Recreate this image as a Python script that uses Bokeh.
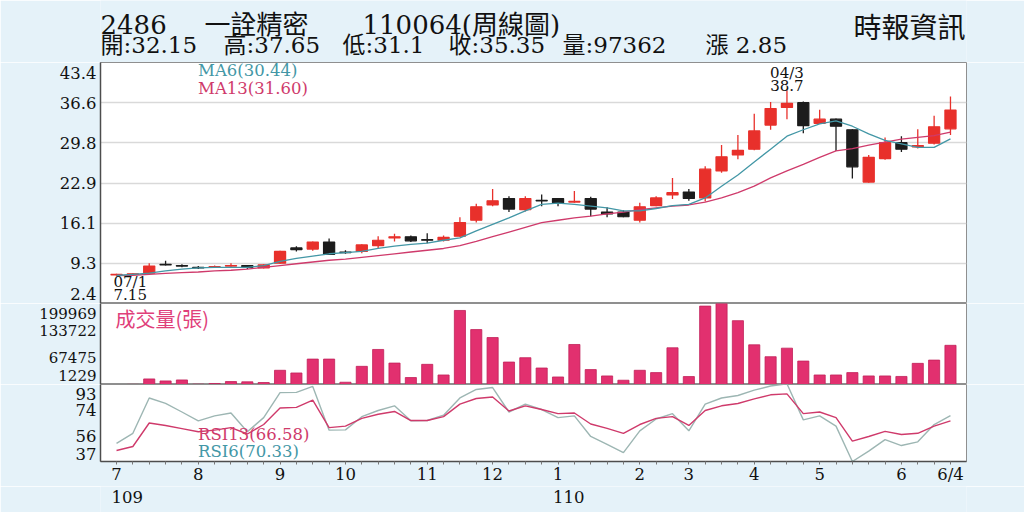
from bokeh.plotting import figure
from bokeh.layouts import column
from bokeh.models import (Range1d, FixedTicker, CustomJSTickFormatter, Label,
                          Legend, LegendItem, ColumnDataSource)
from bokeh.embed import file_html
from bokeh.resources import INLINE

# ---------------- data ----------------
week = list(range(52))
opens = [7.3, 7.4, 7.6, 9.1, 8.9, 8.6, 8.6, 8.8, 8.9, 8.5,
         9.3, 11.9, 11.7, 12.9, 11.2, 11.3, 12.3, 13.6, 13.8, 13.3,
         13.2, 13.9, 16.6, 19.2, 20.3, 18.4, 20.0, 20.3, 19.7, 20.3,
         18.0, 18.0, 16.6, 19.1, 20.9, 21.4, 20.4, 25.0, 27.7, 28.7,
         32.8, 35.8, 36.6, 33.1, 33.8, 32.0, 23.1, 27.1, 29.8, 29.1,
         29.7, 32.15]
highs = [7.5, 7.6, 9.3, 9.7, 9.1, 8.8, 8.9, 9.3, 9.0, 9.1,
         11.4, 12.2, 13.0, 13.5, 11.5, 12.5, 13.9, 14.3, 14.0, 14.4,
         14.0, 17.1, 19.4, 21.9, 20.7, 20.7, 21.0, 20.4, 21.6, 20.6,
         18.8, 18.3, 19.6, 20.7, 23.8, 21.9, 25.8, 29.4, 31.1, 34.7,
         36.7, 38.7, 36.8, 35.4, 33.9, 32.1, 27.7, 30.7, 30.9, 32.1,
         34.4, 37.65]
lows = [7.15, 7.3, 7.6, 8.9, 8.6, 8.3, 8.5, 8.7, 8.3, 8.4,
        9.2, 11.3, 11.4, 10.7, 10.9, 11.0, 11.8, 13.0, 12.9, 12.7,
        13.0, 13.8, 16.2, 19.0, 18.0, 18.1, 19.0, 19.0, 19.6, 17.3,
        17.1, 17.1, 16.2, 19.0, 20.2, 19.9, 19.8, 24.7, 27.0, 28.5,
        32.0, 33.8, 31.4, 33.0, 28.4, 23.7, 23.0, 26.9, 28.2, 28.8,
        29.5, 31.1]
closes = [7.4, 7.5, 8.8, 9.0, 8.8, 8.5, 8.7, 8.9, 8.6, 9.0,
          11.3, 11.6, 12.9, 10.8, 11.1, 12.4, 13.2, 13.8, 13.1, 13.2,
          13.7, 16.2, 18.9, 19.9, 18.5, 20.3, 19.9, 19.6, 19.8, 18.5,
          17.7, 17.2, 18.9, 20.4, 21.3, 20.3, 25.3, 27.4, 28.5, 31.8,
          35.6, 36.5, 32.7, 33.8, 32.6, 25.7, 27.3, 29.8, 28.7, 29.3,
          32.5, 35.35]
volume = [1229, 1500, 14900, 10000, 12400, 2000, 3700, 8500, 7800, 6100,
          36100, 29500, 63600, 63600, 6800, 45800, 87200, 53800, 18300, 50700,
          24600, 182900, 136000, 116400, 56300, 67000, 41700, 19700, 99400, 37800,
          22200, 11700, 36100, 30400, 91300, 20700, 193600, 199969, 157800, 98600,
          69400, 90400, 58700, 24600, 24600, 30400, 22200, 22200, 21000, 53100,
          61100, 97362]
ma6 = [7.2, 7.4, 7.6, 8.0, 8.3, 8.5, 8.6, 8.6, 8.6, 8.9,
       9.6, 10.1, 10.5, 10.9, 11.1, 11.3, 11.8, 12.2, 12.5, 12.7,
       13.2, 13.6, 14.8, 15.9, 17.0, 18.2, 19.3, 19.5, 19.3, 19.0,
       18.7, 18.2, 18.2, 18.6, 19.1, 19.3, 20.4, 22.4, 24.3, 26.5,
       28.7, 30.9, 32.0, 33.0, 33.5, 32.6, 31.3, 30.2, 29.6, 29.0,
       29.0, 30.44]
ma13 = [7.2, 7.25, 7.4, 7.55, 7.7, 7.8, 8.0, 8.1, 8.3, 8.6,
        8.9, 9.2, 9.5, 9.8, 10.0, 10.3, 10.6, 10.9, 11.2, 11.5,
        11.8, 12.3, 13.0, 13.8, 14.6, 15.4, 16.2, 16.6, 17.0, 17.3,
        17.7, 18.0, 18.4, 18.7, 19.0, 19.2, 19.7, 20.4, 21.3, 22.4,
        23.8, 25.0, 26.1, 27.3, 28.4, 28.8, 29.4, 29.9, 30.4, 30.7,
        31.0, 31.60]
rsi6 = [50.2, 57.5, 83.2, 79.3, 73.0, 66.6, 70.2, 72.3, 58.6, 68.9,
        87.1, 87.3, 91.6, 59.8, 60.0, 69.6, 74.1, 77.5, 66.6, 66.8,
        70.7, 83.2, 89.4, 90.8, 73.0, 78.7, 74.8, 68.9, 70.2, 55.2,
        49.5, 43.4, 59.3, 67.9, 71.8, 59.3, 78.7, 83.2, 85.0, 88.9,
        91.9, 93.5, 67.3, 70.2, 62.7, 37.0, 44.5, 52.9, 48.6, 51.3,
        63.9, 70.33]
rsi13 = [45.0, 47.9, 65.0, 63.2, 60.9, 58.6, 59.8, 61.6, 57.0, 63.9,
         75.9, 76.4, 81.6, 61.6, 62.7, 68.4, 71.4, 73.4, 66.8, 66.8,
         69.6, 78.7, 82.8, 83.9, 73.7, 77.5, 74.8, 71.8, 72.3, 64.3,
         61.1, 57.5, 63.9, 68.4, 69.6, 63.2, 74.1, 77.5, 79.2, 82.5,
         85.5, 86.2, 71.8, 73.0, 68.9, 51.8, 55.2, 58.9, 56.6, 57.5,
         62.7, 66.58]
change = 2.85

month_pos = [0, 5, 10, 14, 19, 23, 27, 32, 35, 39, 43, 48, 51]
month_lab = ["7", "8", "9", "10", "11", "12", "1", "2", "3", "4", "5", "6", "6/4"]
year_pos = [0, 27]
year_lab = ["109", "110"]

price_ticks = [2.44, 9.27, 16.11, 22.94, 29.77, 36.61, 43.44]
price_labels = ["2.4", "9.3", "16.1", "22.9", "29.8", "36.6", "43.4"]
vol_ticks = [1229, 67475, 133722, 199969]
vol_labels = ["1229", "67475", "133722", "199969"]
rsi_ticks = [37, 55.67, 74.33, 93]
rsi_labels = ["37", "56", "74", "93"]

hi_week, hi_date = 41, "04/3"
lo_week, lo_date = 0, "07/1"

# ---------------- style ----------------
BG = "#e5f2f9"
RED = "#e8302b"
BLACK = "#1c1c1c"
TEAL = "#4397a6"
PINK = "#cf3a6b"
VOLC = "#e2306f"
RSI6C = "#9db6b3"
LEGLINE = "#ebbcc9"
INK = "#111111"
SERIF = "DejaVu Serif"
MIX = "'DejaVu Serif', 'Noto Sans CJK TC'"
CJK = "Noto Sans CJK TC"

W = 1024
BL, BR = 100, 58
H0 = 62            # header strip
H1 = 241           # price frame
H2 = 81            # volume frame
F3, B3 = 82, 20    # rsi frame + x-axis strip
H4 = 26            # year strip

x_range = Range1d(-0.98, 51.98)


def fmt(pos, lab):
    return CustomJSTickFormatter(args=dict(pos=pos, lab=lab), code="""
let b = 0, d = Infinity;
for (let i = 0; i < pos.length; i++) {
  const e = Math.abs(pos[i] - tick);
  if (e < d) { d = e; b = i; }
}
return lab[b];
""")


def make_fig(height, bottom, yr, xaxis=False, yaxis=True, frame=True):
    f = figure(width=W, height=height, x_range=x_range, y_range=yr,
               output_backend="svg", toolbar_location=None,
               x_axis_location="below" if xaxis else None,
               y_axis_location="left" if yaxis else None,
               min_border_left=BL, min_border_right=BR,
               min_border_top=0, min_border_bottom=bottom,
               background_fill_color="white" if frame else BG,
               border_fill_color=BG,
               outline_line_color="#8f8f8f" if frame else None, outline_line_width=1)
    f.xgrid.visible = False
    f.ygrid.visible = False
    if yaxis:
        ax = f.yaxis[0]
        ax.axis_line_color = "#4d4d4d"
        ax.axis_line_width = 1.5
        ax.major_tick_line_color = None
        ax.minor_tick_line_color = None
        ax.major_tick_out = 0
        ax.major_label_text_font = SERIF
        ax.major_label_text_color = INK
        ax.major_label_standoff = 4
    return f


def label_positions(ticks, lo, hi, frame_px, nudge_bottom, nudge_top):
    per_px = (hi - lo) / frame_px
    pos = list(ticks)
    pos[0] = pos[0] + nudge_bottom * per_px
    pos[-1] = pos[-1] - nudge_top * per_px
    return pos


def text(fig, t, x, y, size, font=MIX, color=INK, align="left", xu="screen", xoff=0):
    fig.add_layout(Label(x=x, y=y, x_units=xu, y_units="screen", x_offset=xoff, text=t,
                         text_font=font, text_font_size=size, text_color=color,
                         text_align=align, text_baseline="middle"))


def add_legend(fig, t, color, y):
    r = fig.line(x=[], y=[], line_color=LEGLINE, line_width=1.2)
    leg = Legend(items=[LegendItem(label=t, renderers=[r])], location=(15, y),
                 background_fill_alpha=0, border_line_color=None,
                 label_text_color=color, label_text_font=SERIF,
                 label_text_font_size="16.5px", glyph_width=80, glyph_height=17,
                 label_height=17, padding=0, margin=0, label_standoff=3, spacing=0)
    fig.add_layout(leg)

# ---------------- header strip ----------------
p0 = make_fig(H0, 0, Range1d(0, H0), yaxis=False, frame=False)
for t, x in [("2486", 0), ("一詮精密", 104), ("110064(周線圖)", 262)]:
    text(p0, t, x, 38, "26px")
line2 = [(f"開:{opens[-1]}", 0), (f"高:{highs[-1]}", 123), (f"低:{lows[-1]}", 242),
         (f"收:{closes[-1]}", 348), (f"量:{volume[-1]}", 462), (f"漲 {change}", 605)]
for t, x in line2:
    text(p0, t, x, 18, "23px")
text(p0, "時報資訊", 865, 36.5, "28px", font=CJK, align="right")

# ---------------- price panel ----------------
p_lo, p_hi = price_ticks[0], price_ticks[-1]
p1 = make_fig(H1, 0, Range1d(p_lo, p_hi))
pl_pos = label_positions(price_ticks, p_lo, p_hi, H1, 10, 10)
p1.yaxis[0].ticker = FixedTicker(ticks=pl_pos)
p1.yaxis[0].formatter = fmt(pl_pos, price_labels)
p1.yaxis[0].major_label_text_font_size = "16.5px"
p1.ygrid.visible = True
p1.ygrid.ticker = FixedTicker(ticks=price_ticks)
p1.ygrid.grid_line_color = "#d9d9d9"
p1.ygrid.grid_line_width = 1.6

src = ColumnDataSource(dict(
    x=week, o=opens, h=highs, l=lows, c=closes,
    top=[max(o, c) for o, c in zip(opens, closes)],
    bot=[min(o, c) for o, c in zip(opens, closes)],
    col=[RED if c >= o else BLACK for o, c in zip(opens, closes)],
))
p1.segment(x0="x", y0="h", x1="x", y1="l", line_color="col", line_width=1.3, source=src)
p1.vbar(x="x", width=0.68, top="top", bottom="bot", fill_color="col",
        line_color="col", line_width=1.2, source=src)
p1.line(week, ma13, line_color=PINK, line_width=1.3)
p1.line(week, ma6, line_color=TEAL, line_width=1.3)

add_legend(p1, f"MA6({ma6[-1]:.2f})", TEAL, 223)
add_legend(p1, f"MA13({ma13[-1]:.2f})", PINK, 205)

text(p1, hi_date, hi_week, 231, "15px", font=SERIF, align="center", xu="data")
text(p1, f"{highs[hi_week]}", hi_week, 218, "15px", font=SERIF, align="center", xu="data")
text(p1, lo_date, lo_week, 22, "15px", font=SERIF, xu="data", xoff=-3)
text(p1, f"{lows[lo_week]}", lo_week, 9, "15px", font=SERIF, xu="data", xoff=-3)

# ---------------- volume panel ----------------
v_lo, v_hi = vol_ticks[0], vol_ticks[-1]
p2 = make_fig(H2, 0, Range1d(v_lo, v_hi))
vl_pos = label_positions(vol_ticks, v_lo, v_hi, H2, 9.5, 9.5)
p2.yaxis[0].ticker = FixedTicker(ticks=vl_pos)
p2.yaxis[0].formatter = fmt(vl_pos, vol_labels)
p2.yaxis[0].major_label_text_font_size = "15px"
p2.vbar(x=week, top=volume, bottom=v_lo, width=0.68, fill_color=VOLC,
        line_color="#c22159", line_width=0.8)
text(p2, "成交量(張)", 15, 66, "20px", font=CJK, color="#e0407a")

# ---------------- RSI panel ----------------
r_lo, r_hi = rsi_ticks[0], rsi_ticks[-1]
p3 = make_fig(F3 + B3, B3, Range1d(r_lo, r_hi), xaxis=True)
rl_pos = label_positions(rsi_ticks, r_lo, r_hi, F3, 8.5, 10)
p3.yaxis[0].ticker = FixedTicker(ticks=rl_pos)
p3.yaxis[0].formatter = fmt(rl_pos, rsi_labels)
p3.yaxis[0].major_label_text_font_size = "16.5px"
p3.line(week, rsi6, line_color=RSI6C, line_width=1.4)
p3.line(week, rsi13, line_color=PINK, line_width=1.4)
add_legend(p3, f"RSI13({rsi13[-1]:.2f})", PINK, 17)
add_legend(p3, f"RSI6({rsi6[-1]:.2f})", TEAL, 0)

xa = p3.xaxis[0]
xa.ticker = FixedTicker(ticks=month_pos, minor_ticks=week)
xa.formatter = fmt(month_pos, month_lab)
xa.axis_line_color = "#4d4d4d"
xa.axis_line_width = 1.5
xa.major_tick_line_color = None
xa.major_tick_out = 0
xa.major_tick_in = 0
xa.minor_tick_line_color = "#777777"
xa.minor_tick_in = 0
xa.minor_tick_out = 3
xa.major_label_text_font = SERIF
xa.major_label_text_font_size = "16.5px"
xa.major_label_text_color = INK
xa.major_label_standoff = 0

# ---------------- year strip ----------------
p4 = make_fig(H4, 0, Range1d(0, H4), yaxis=False, frame=False)
for pos, lab in zip(year_pos, year_lab):
    text(p4, lab, pos, 16, "16.5px", font=SERIF, xu="data", xoff=-5)

layout = column(p0, p1, p2, p3, p4, spacing=0)
open("out.html", "w").write(file_html(layout, INLINE))
